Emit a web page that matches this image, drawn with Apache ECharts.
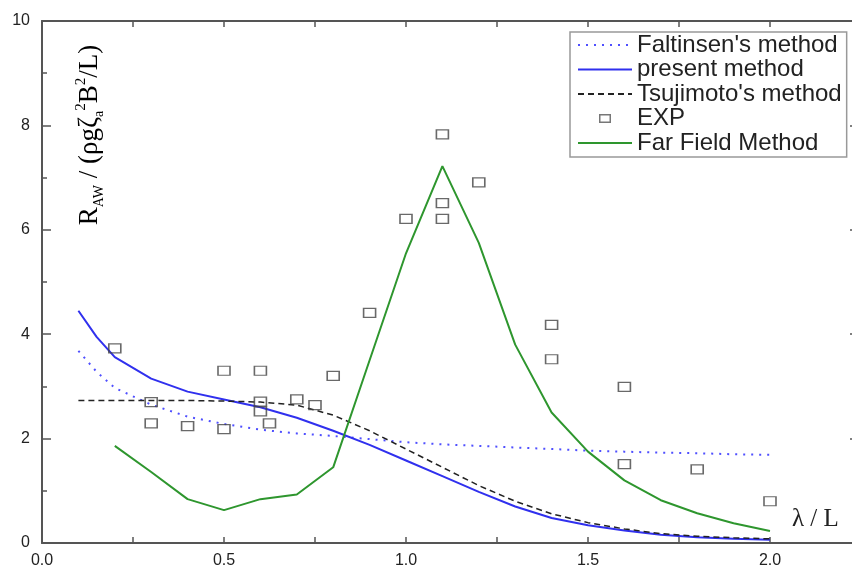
<!DOCTYPE html>
<html>
<head>
<meta charset="utf-8">
<script src="https://cdn.jsdelivr.net/npm/echarts/dist/echarts.min.js"></script>
<style>
html,body{margin:0;padding:0;background:#fff;}
#chart{width:852px;height:572px;}
</style>
</head>
<body>
<div id="chart"></div>
<script>
// ---- data ----
const lambdaCurve = [0.1,0.15,0.2,0.3,0.4,0.5,0.6,0.7,0.8,0.9,1.0,1.1,1.2,1.3,1.4,1.5,1.6,1.7,1.8,1.9,2.0];
const faltinsen   = [3.68,3.28,2.97,2.65,2.42,2.28,2.17,2.10,2.05,1.99,1.93,1.89,1.86,1.83,1.80,1.77,1.75,1.73,1.72,1.70,1.69];
const present     = [4.45,3.95,3.56,3.15,2.90,2.75,2.60,2.40,2.15,1.88,1.58,1.28,0.98,0.70,0.48,0.34,0.24,0.16,0.11,0.08,0.06];
const tsujimoto   = [2.73,2.73,2.73,2.73,2.73,2.72,2.70,2.64,2.45,2.15,1.80,1.45,1.10,0.80,0.56,0.39,0.27,0.18,0.13,0.10,0.08];

const lambdaFar   = [0.2,0.3,0.4,0.5,0.6,0.7,0.8,0.9,1.0,1.1,1.2,1.3,1.4,1.5,1.6,1.7,1.8,1.9,2.0];
const farField    = [1.86,1.36,0.84,0.63,0.84,0.93,1.45,3.50,5.55,7.22,5.75,3.80,2.50,1.75,1.20,0.82,0.57,0.38,0.23];

const expX = [0.2,0.3,0.3,0.4,0.5,0.5,0.6,0.6,0.6,0.625,0.7,0.75,0.8,0.9,1.0,1.1,1.1,1.1,1.2,1.4,1.4,1.6,1.6,1.8,2.0];
const expY = [3.73,2.70,2.29,2.24,3.30,2.18,3.30,2.71,2.52,2.29,2.75,2.64,3.20,4.41,6.21,7.83,6.51,6.21,6.91,4.18,3.52,2.99,1.51,1.41,0.80];

const seriesNames = ["Faltinsen's method", "present method", "Tsujimoto's method", "EXP", "Far Field Method"];
const xTickLabels = ['0.0','0.5','1.0','1.5','2.0'];
const yTickLabels = ['0','2','4','6','8','10'];

const pairs = (xs, ys) => xs.map((x, i) => [x, ys[i]]);

const axisColor = '#555';
const labelFont = {fontSize: 16, fontFamily: 'Liberation Sans, Arial, sans-serif', color: '#222'};
const hiddenSymbol = {color: 'rgba(0,0,0,0)', borderColor: 'rgba(0,0,0,0)', borderWidth: 0};

const chart = echarts.init(document.getElementById('chart'));
chart.setOption({
  animation: false,
  backgroundColor: '#fff',
  grid: {left: 42, top: 21, right: -9, bottom: 29, containLabel: false, outerBoundsMode: 'none'},
  xAxis: [
    {
      type: 'value', position: 'bottom', min: 0, max: 2.25, interval: 0.25,
      axisLine: {show: true, onZero: false, lineStyle: {color: axisColor, width: 2}},
      axisTick: {show: true, inside: true, length: 6, lineStyle: {color: axisColor, width: 1.5}},
      axisLabel: Object.assign({
        margin: 10,
        showMaxLabel: false,
        formatter: function (v) {
          const k = Math.round(v * 2);
          return (Math.abs(v * 2 - k) < 1e-6 && xTickLabels[k] !== undefined) ? xTickLabels[k] : '';
        }
      }, labelFont),
      splitLine: {show: false}
    },
    {
      type: 'value', position: 'top', min: 0, max: 2.25, interval: 0.25,
      axisLine: {show: true, onZero: false, lineStyle: {color: axisColor, width: 2}},
      axisTick: {show: true, inside: true, length: 6, lineStyle: {color: axisColor, width: 1.5}},
      axisLabel: {show: false},
      splitLine: {show: false}
    }
  ],
  yAxis: [
    {
      type: 'value', position: 'left', min: 0, max: 10, interval: 2,
      axisLine: {show: true, onZero: false, lineStyle: {color: axisColor, width: 2}},
      axisTick: {show: true, inside: true, length: 9, lineStyle: {color: axisColor, width: 1.5}},
      minorTick: {show: true, splitNumber: 2, length: 5, lineStyle: {color: axisColor, width: 1.5}},
      axisLabel: Object.assign({
        margin: 12,
        formatter: function (v) { return yTickLabels[Math.round(v / 2)]; }
      }, labelFont),
      splitLine: {show: false}
    },
    {
      type: 'value', position: 'right', min: 0, max: 10, interval: 2,
      axisLine: {show: true, onZero: false, lineStyle: {color: axisColor, width: 2}},
      axisTick: {show: true, inside: true, length: 11, lineStyle: {color: axisColor, width: 1.5}},
      minorTick: {show: true, splitNumber: 2, length: 5, lineStyle: {color: axisColor, width: 1.5}},
      axisLabel: {show: false},
      splitLine: {show: false}
    }
  ],
  legend: {
    orient: 'vertical',
    left: 570, top: 32,
    itemWidth: 54, itemHeight: 14, itemGap: 0.5,
    padding: [1, 5, 2, 7],
    borderColor: '#999', borderWidth: 1.5,
    backgroundColor: '#fff',
    textStyle: {fontSize: 24, lineHeight: 24, fontFamily: 'Liberation Sans, Arial, sans-serif', color: '#222'},
    data: [
      {name: seriesNames[0], itemStyle: hiddenSymbol},
      {name: seriesNames[1], itemStyle: hiddenSymbol},
      {name: seriesNames[2], itemStyle: hiddenSymbol},
      {name: seriesNames[3],
       icon: 'path://M0,0 M54,14 M21,2.5 L33,2.5 L33,11.5 L21,11.5 Z M22.5,4 L22.5,10 L31.5,10 L31.5,4 Z',
       itemStyle: {color: '#555', borderWidth: 0}},
      {name: seriesNames[4], itemStyle: hiddenSymbol}
    ]
  },
  series: [
    {
      name: seriesNames[0], type: 'line', symbol: 'none', z: 3,
      data: pairs(lambdaCurve, faltinsen),
      lineStyle: {color: '#4f4fff', width: 2, type: [2, 6]},
      itemStyle: {color: '#4f4fff'}
    },
    {
      name: seriesNames[1], type: 'line', symbol: 'none', z: 3,
      data: pairs(lambdaCurve, present),
      lineStyle: {color: '#3030ee', width: 2},
      itemStyle: {color: '#3030ee'}
    },
    {
      name: seriesNames[2], type: 'line', symbol: 'none', z: 3,
      data: pairs(lambdaCurve, tsujimoto),
      lineStyle: {color: '#222', width: 1.5, type: [6, 4]},
      itemStyle: {color: '#222'}
    },
    {
      name: seriesNames[3], type: 'scatter', symbol: 'rect', symbolSize: [12, 9], z: 4,
      data: pairs(expX, expY),
      itemStyle: {color: 'rgba(255,255,255,0)', borderColor: '#444', borderWidth: 1.4}
    },
    {
      name: seriesNames[4], type: 'line', symbol: 'none', z: 3,
      data: pairs(lambdaFar, farField),
      lineStyle: {color: '#2e962e', width: 2},
      itemStyle: {color: '#2e962e'}
    }
  ],
  graphic: [
    {
      type: 'text', x: 90, y: 135, rotation: Math.PI / 2, z: 10,
      style: {
        text: '{m|R}{s|AW}{m| / (ρgζ}{s|a}{p|2}{m|B}{p|2}{m|/L)}',
        align: 'center', verticalAlign: 'middle',
        rich: {
          m: {fontSize: 27, lineHeight: 32, fontFamily: 'Liberation Serif, Times New Roman, serif', color: '#222'},
          s: {fontSize: 14, lineHeight: 14, verticalAlign: 'bottom', fontFamily: 'Liberation Serif, Times New Roman, serif', color: '#222'},
          p: {fontSize: 15, lineHeight: 15, verticalAlign: 'top', fontFamily: 'Liberation Serif, Times New Roman, serif', color: '#222'}
        }
      }
    },
    {
      type: 'text', x: 792, y: 519, z: 10,
      style: {
        text: 'λ / L', fontSize: 25, fontFamily: 'Liberation Serif, Times New Roman, serif',
        fill: '#222', align: 'left', verticalAlign: 'middle'
      }
    }
  ]
});
</script>
</body>
</html>
